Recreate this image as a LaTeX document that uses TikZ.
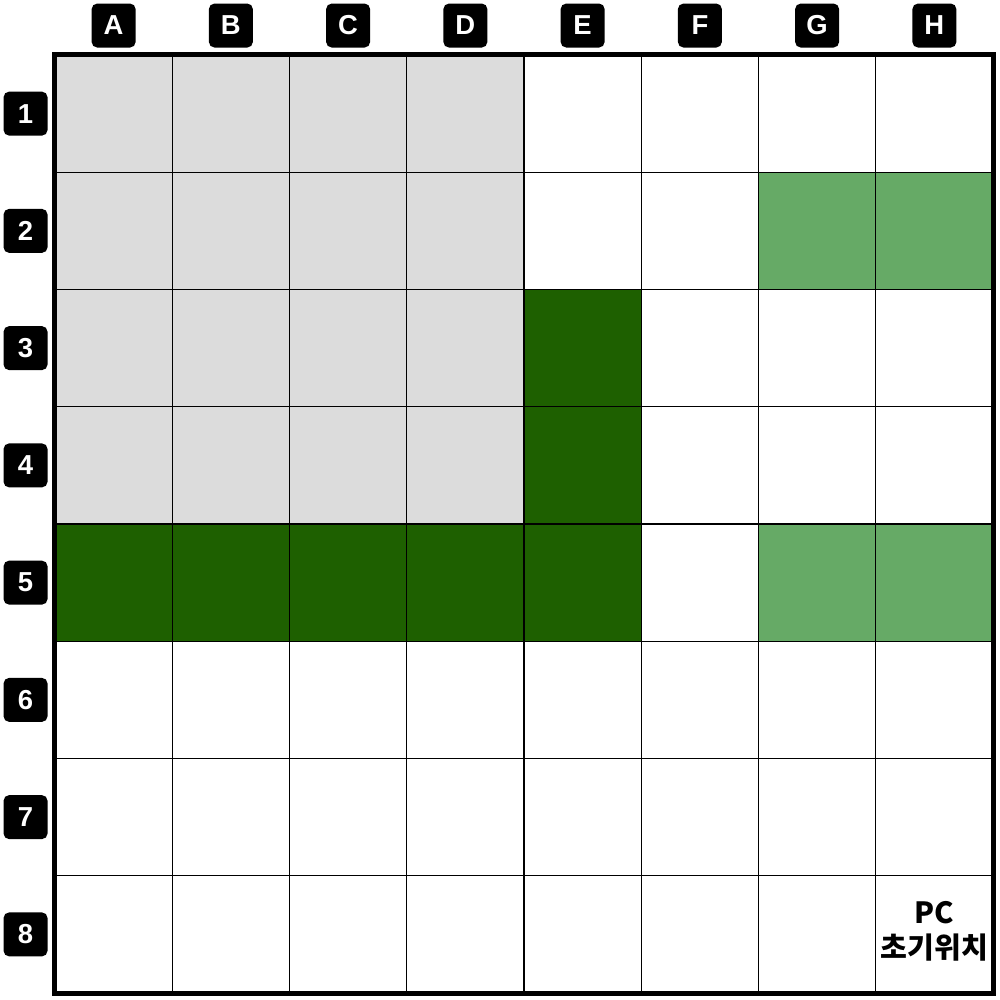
\documentclass[tikz,border=0pt]{standalone}
\usepackage{fontspec}
\setmainfont{Liberation Sans}
\newfontfamily\krfont{Noto Sans CJK KR}
\usetikzlibrary{positioning}
\definecolor{wallgray}{HTML}{DCDCDC}
\definecolor{darkzone}{HTML}{1E6000}
\definecolor{lightzone}{HTML}{66AA66}

\tikzset{
  cell/.style={draw=black, line width=0.4pt, minimum size=1.1725cm, inner sep=0pt, fill=white},
  tag/.style={fill=black, rounded corners=1.6pt, minimum size=0.44cm, inner sep=0pt,
    text=white, font=\fontsize{7.8}{8}\selectfont\bfseries}
}

\begin{document}
\begin{tikzpicture}[x=0.01cm, y=-0.01cm]
  \useasboundingbox (0,0) rectangle (1000,1000);
  % board cells
  \foreach \r in {1,...,8}{
    \foreach \c [count=\i] in {A,...,H}{
      \node[cell] (cell-\c\r) at ({55+117.25*(\i-0.5)},{55+117.25*(\r-0.5)}) {};
    }
  }
  % gray block
  \foreach \r in {1,...,4}{
    \foreach \c [count=\i] in {A,...,D}{
      \node[cell, fill=wallgray] (gray-\c\r) at ({55+117.25*(\i-0.5)},{55+117.25*(\r-0.5)}) {};
    }
  }
  % dark green zone
  \foreach \c/\i/\r in {E/5/3, E/5/4, A/1/5, B/2/5, C/3/5, D/4/5, E/5/5}{
    \node[cell, fill=darkzone] (dark-\c\r) at ({55+117.25*(\i-0.5)},{55+117.25*(\r-0.5)}) {};
  }
  % light green zone
  \foreach \c/\i/\r in {G/7/2, H/8/2, G/7/5, H/8/5}{
    \node[cell, fill=lightzone] (light-\c\r) at ({55+117.25*(\i-0.5)},{55+117.25*(\r-0.5)}) {};
  }
  % outer frame
  \draw[line width=1.3pt] (cell-A1.north west) rectangle (cell-H8.south east);
  % column and row tags
  \foreach \c in {A,...,H}{
    \node[tag, above=0.06cm of cell-\c1] (col-\c) {\c};
  }
  \foreach \r in {1,...,8}{
    \node[tag, left=0.06cm of cell-A\r] (row-\r) {\r};
  }
  % start position
  \node[align=center, font=\krfont\bfseries\fontsize{8.3}{9.8}\selectfont, anchor=north] (pcstart) at ([yshift=-0.14cm]cell-H8.north) {PC\\초기위치};
\end{tikzpicture}
\end{document}
